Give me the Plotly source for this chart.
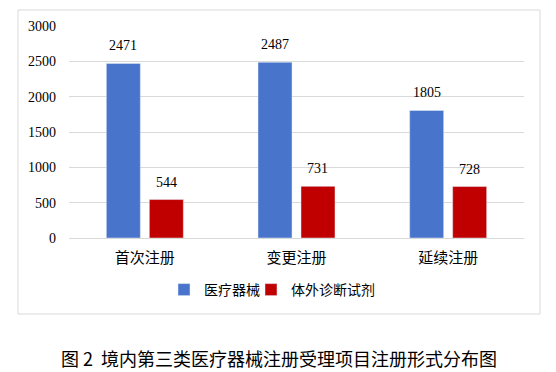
import plotly.graph_objects as go

categories = ["首次注册", "变更注册", "延续注册"]
series_names = ["医疗器械", "体外诊断试剂"]
device_values = [2471, 2487, 1805]
ivd_values = [544, 731, 728]
y_ticks = [0, 500, 1000, 1500, 2000, 2500, 3000]
caption = "图 2  境内第三类医疗器械注册受理项目注册形式分布图"

# page body has an 8px margin; figure drawn at (8, 8)
OFF = 8
W, H = 556 - OFF, 372 - OFF
plot_left, plot_right, plot_top, plot_bottom = 69 - OFF, 524 - OFF, 26 - OFF, 238 - OFF
L, R, T, B = plot_left, W - plot_right, plot_top, H - plot_bottom
pw, ph = W - L - R, H - T - B


def px(xr):
    return (xr - OFF - L) / pw


def py(yr):
    return (plot_bottom - (yr - OFF)) / ph


serif = "Liberation Serif"
cjk = "Noto Sans CJK SC"

fig = go.Figure()
fig.add_trace(go.Bar(x=categories, y=device_values, name=series_names[0],
                     marker_color="#4874CB", legend="legend"))
fig.add_trace(go.Bar(x=categories, y=ivd_values, name=series_names[1],
                     marker_color="#C00000", legend="legend2"))

slot = pw / len(categories)
bargap = 0.433
half = slot * (1 - bargap) / 4
annotations = []
for vals, sh in ((device_values, -half), (ivd_values, half)):
    for c, v in zip(categories, vals):
        annotations.append(dict(x=c, y=v, xref="x", yref="y", text=str(v),
                                showarrow=False, xshift=sh, yshift=8,
                                yanchor="bottom",
                                font=dict(family=serif, size=14, color="#000")))
annotations.append(dict(x=px(278.5), y=py(358), xref="paper",
                        yref="paper", text=caption, showarrow=False,
                        xanchor="center", yanchor="middle",
                        font=dict(family=cjk, size=18, color="#000")))

leg_common = dict(orientation="h", xanchor="left", yanchor="middle",
                  y=py(290), font=dict(family=cjk, size=14, color="#000"),
                  itemwidth=30, bgcolor="rgba(0,0,0,0)")

fig.update_layout(
    width=W, height=H,
    margin=dict(l=L, r=R, t=T, b=B),
    paper_bgcolor="white", plot_bgcolor="white",
    barmode="group", bargap=bargap, bargroupgap=0.209,
    showlegend=True,
    legend=dict(x=px(164), **leg_common),
    legend2=dict(x=px(251), **leg_common),
    annotations=annotations,
    shapes=[dict(type="rect", xref="paper", yref="paper",
                 x0=px(18), x1=px(540), y0=py(314), y1=py(10),
                 line=dict(color="#d9d9d9", width=1), fillcolor="rgba(0,0,0,0)",
                 layer="below")],
)
fig.update_yaxes(range=[0, 3000], tickvals=y_ticks, showgrid=True,
                 gridcolor="#d9d9d9", gridwidth=1, zeroline=False, showline=False,
                 ticks="", ticklabelstandoff=12,
                 tickfont=dict(family=serif, size=14, color="#000"))
fig.update_xaxes(showline=True, linecolor="#d9d9d9", linewidth=1, ticks="",
                 ticklabelstandoff=6,
                 tickfont=dict(family=cjk, size=15, color="#000"))

fig.write_html("out.html")
